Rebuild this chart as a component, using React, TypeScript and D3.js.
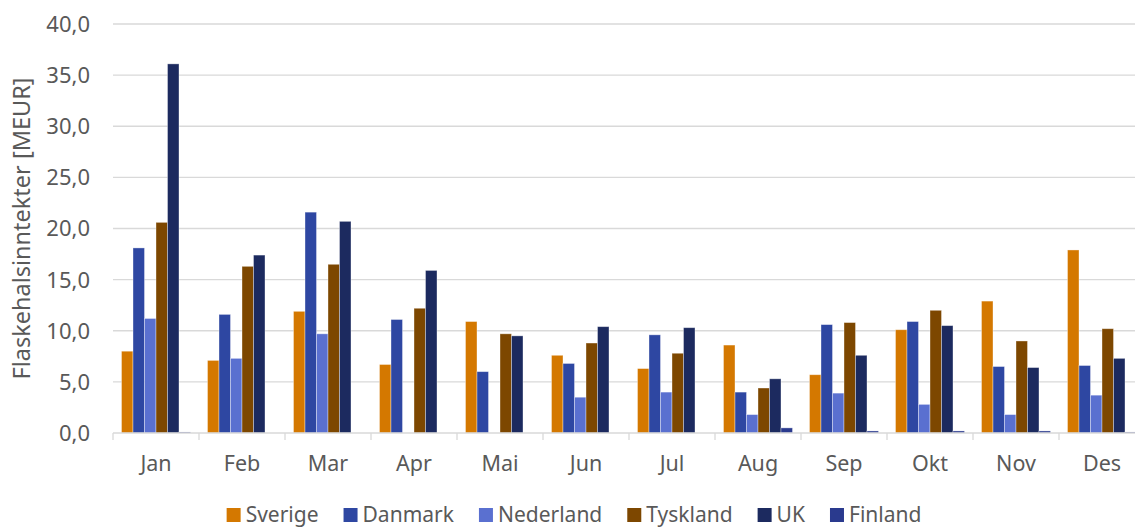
import * as d3 from 'd3';
import { useEffect, useRef } from 'react';

const months = ['Jan', 'Feb', 'Mar', 'Apr', 'Mai', 'Jun', 'Jul', 'Aug', 'Sep', 'Okt', 'Nov', 'Des'];
const countries = ['Sverige', 'Danmark', 'Nederland', 'Tyskland', 'UK', 'Finland'];

const sverige = [8.0, 7.1, 11.9, 6.7, 10.9, 7.6, 6.3, 8.6, 5.7, 10.1, 12.9, 17.9];
const danmark = [18.1, 11.6, 21.6, 11.1, 6.0, 6.8, 9.6, 4.0, 10.6, 10.9, 6.5, 6.6];
const nederland = [11.2, 7.3, 9.7, 0, 0, 3.5, 4.0, 1.8, 3.9, 2.8, 1.8, 3.7];
const tyskland = [20.6, 16.3, 16.5, 12.2, 9.7, 8.8, 7.8, 4.4, 10.8, 12.0, 9.0, 10.2];
const uk = [36.1, 17.4, 20.7, 15.9, 9.5, 10.4, 10.3, 5.3, 7.6, 10.5, 6.4, 7.3];
const finland = [0.1, 0, 0, 0, 0, 0, 0, 0.5, 0.2, 0.2, 0.2, 0.1];

const yTicks = [0, 5, 10, 15, 20, 25, 30, 35, 40];
const colors = ['#D47800', '#2E47A2', '#5A70D0', '#7D4700', '#1C2A5F', '#2A3A8E'];

const series = [sverige, danmark, nederland, tyskland, uk, finland];

export default function App() {
  const ref = useRef<SVGSVGElement | null>(null);

  useEffect(() => {
    if (!ref.current) return;
    const svg = d3.select(ref.current);
    svg.selectAll('*').remove();

    const width = 1135;
    const height = 529;
    const margin = { top: 24, left: 113, bottom: 96 };
    const font = "'Noto Sans', sans-serif";
    const textColor = '#595959';

    const x0 = d3.scaleBand<string>().domain(months).range([margin.left, margin.left + 86 * 12]);
    const x1 = d3
      .scaleBand<string>()
      .domain(countries)
      .range([8.5, x0.bandwidth() - 8.5]);
    const y = d3.scaleLinear().domain([0, 40]).range([height - margin.bottom, margin.top]);

    // gridlines
    svg
      .append('g')
      .selectAll('line')
      .data(yTicks.filter((t) => t > 0))
      .enter()
      .append('line')
      .attr('x1', margin.left)
      .attr('x2', width)
      .attr('y1', (d) => y(d))
      .attr('y2', (d) => y(d))
      .attr('stroke', '#D9D9D9')
      .attr('stroke-width', 1.3);

    // y labels
    svg
      .append('g')
      .selectAll('text')
      .data(yTicks)
      .enter()
      .append('text')
      .attr('x', 90)
      .attr('y', (d) => y(d))
      .attr('dy', '0.36em')
      .attr('text-anchor', 'end')
      .attr('font-family', font)
      .attr('font-size', 22)
      .attr('fill', textColor)
      .text((d) => d.toFixed(1).replace('.', ','));

    // y title
    svg
      .append('text')
      .attr('transform', `translate(30, ${(y(0) + y(40)) / 2}) rotate(-90)`)
      .attr('text-anchor', 'middle')
      .attr('font-family', font)
      .attr('font-size', 23.5)
      .attr('fill', textColor)
      .text('Flaskehalsinntekter [MEUR]');

    // bars
    const groups = svg
      .append('g')
      .selectAll('g')
      .data(months)
      .enter()
      .append('g')
      .attr('transform', (m) => `translate(${x0(m)},0)`);

    groups
      .selectAll('rect')
      .data((m, i) => countries.map((c, k) => ({ c, k, v: series[k][i] })))
      .enter()
      .append('rect')
      .attr('x', (d) => x1(d.c) || 0)
      .attr('y', (d) => y(d.v))
      .attr('width', x1.bandwidth())
      .attr('height', (d) => y(0) - y(d.v))
      .attr('fill', (d) => colors[d.k])
      .attr('stroke', '#ffffff')
      .attr('stroke-opacity', (d) => (d.v > 0 ? 0.45 : 0))
      .attr('stroke-width', 0.8);

    // x axis
    const xAxis = svg.append('g');
    xAxis
      .append('line')
      .attr('x1', margin.left)
      .attr('x2', width)
      .attr('y1', y(0))
      .attr('y2', y(0))
      .attr('stroke', '#D9D9D9')
      .attr('stroke-width', 1.3);
    xAxis
      .selectAll('line.tick')
      .data(months)
      .enter()
      .append('line')
      .attr('class', 'tick')
      .attr('x1', (m) => x0(m) || 0)
      .attr('x2', (m) => x0(m) || 0)
      .attr('y1', y(0))
      .attr('y2', y(0) + 7)
      .attr('stroke', '#D9D9D9')
      .attr('stroke-width', 1.3);
    xAxis
      .selectAll('text')
      .data(months)
      .enter()
      .append('text')
      .attr('x', (m) => (x0(m) || 0) + x0.bandwidth() / 2)
      .attr('y', 471)
      .attr('text-anchor', 'middle')
      .attr('font-family', font)
      .attr('font-size', 21.5)
      .attr('fill', textColor)
      .text((m) => m);

    // legend
    const legend = svg.append('g');
    const items = legend
      .selectAll('g')
      .data(countries)
      .enter()
      .append('g');
    items
      .append('rect')
      .attr('width', 14)
      .attr('height', 14)
      .attr('y', 508)
      .attr('fill', (c, i) => colors[i]);
    items
      .append('text')
      .attr('x', 19)
      .attr('y', 522)
      .attr('font-family', font)
      .attr('font-size', 21)
      .attr('fill', textColor)
      .text((c) => c);
    const widths: number[] = [];
    items.each(function () {
      const t = d3.select(this).select('text').node() as SVGTextElement;
      widths.push(19 + t.getComputedTextLength());
    });
    const gap = 25;
    const total = d3.sum(widths) + gap * (widths.length - 1);
    let cx = 574 - total / 2;
    items.attr('transform', (c, i) => {
      const tx = cx;
      cx += widths[i] + gap;
      return `translate(${tx},0)`;
    });
  }, []);

  return (
    <svg
      ref={ref}
      width={1135}
      height={529}
      style={{ position: 'absolute', left: 0, top: 0, background: '#fff' }}
      role="img"
      aria-label="Flaskehalsinntekter per måned"
    />
  );
}
